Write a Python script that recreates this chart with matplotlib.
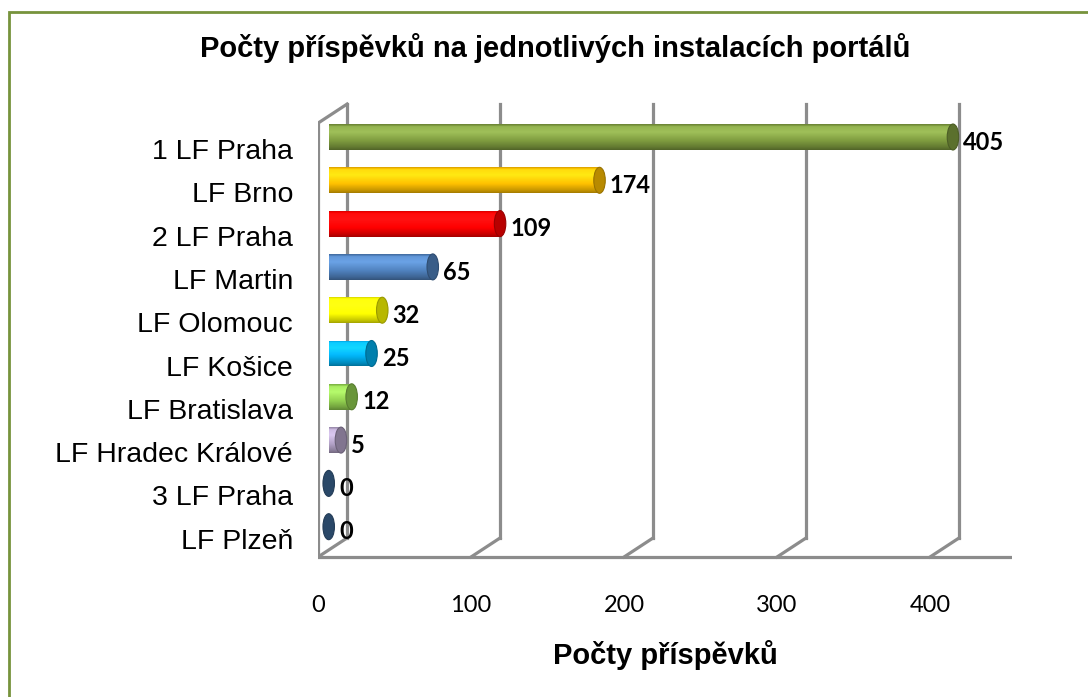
import numpy as np
import matplotlib.pyplot as plt
from matplotlib.patches import Ellipse, Rectangle
from matplotlib.colors import to_rgb
from matplotlib.transforms import ScaledTranslation

# data
kategorie = ["1 LF Praha", "LF Brno", "2 LF Praha", "LF Martin", "LF Olomouc",
             "LF Košice", "LF Bratislava", "LF Hradec Králové", "3 LF Praha", "LF Plzeň"]
hodnoty = [405, 174, 109, 65, 32, 25, 12, 5, 0, 0]
barvy = ["#7E9B3F", "#FFC000", "#FF0000", "#4F81BD", "#FFFF00",
         "#00B0F0", "#92D050", "#B3A2C7", "#3A6491", "#3A6491"]
xticky = [0, 100, 200, 300, 400]

W, H = 1088, 697
fig = plt.figure(figsize=(W / 100, H / 100), dpi=100)

# zelený rámeček okolo grafu
fig.add_artist(Rectangle((9 / W, -0.1), 1.2, 1 - 12 / H + 0.1, transform=fig.transFigure,
                         fill=False, edgecolor="#77933C", linewidth=2))

# osa: 0 vpredu na 318 px, 1.53 px na jednotku
ax = fig.add_axes([318 / W, 1 - 560 / H, 694 / W, 460 / H])
for s in ax.spines.values():
    s.set_visible(False)

hloubka_x = 19      # posun zadní stěny (jednotky)
hloubka_y = -0.44
podlaha = 9.70
vrch = -0.32
seda = "#8C8C8C"
lw = 2.3

# levá stěna
ax.plot([0, 0], [podlaha, vrch], color=seda, lw=lw, solid_capstyle="butt")
ax.plot([0, hloubka_x], [vrch, vrch + hloubka_y], color=seda, lw=lw)
ax.plot([0, hloubka_x], [podlaha, podlaha + hloubka_y], color=seda, lw=lw)
ax.plot([hloubka_x, hloubka_x], [podlaha + hloubka_y, vrch + hloubka_y], color=seda, lw=lw)
# mřížka na zadní stěně
for v in xticky[1:]:
    ax.plot([v + hloubka_x, v + hloubka_x], [vrch + hloubka_y, podlaha + hloubka_y],
            color=seda, lw=lw, zorder=1)
    ax.plot([v, v + hloubka_x], [podlaha, podlaha + hloubka_y], color=seda, lw=lw, zorder=1)
# přední hrana podlahy
ax.plot([0, 453], [podlaha, podlaha], color=seda, lw=lw)

# válcové pruhy
zacatek = 7
vyska = 0.6
cap_w = 7.5
navic = 3
for i, (h, c) in enumerate(zip(hodnoty, barvy)):
    rgb = np.array(to_rgb(c))
    if h > 0:
        delka = h + navic
        bar = ax.barh(i, delka, left=zacatek, height=vyska, color=c, zorder=3)[0]
        t = np.linspace(0, 1, 40)
        # světlejší nahoře, tmavší dole
        shade = np.interp(t, [0, 0.08, 0.3, 0.65, 0.9, 1], [0.85, 1.08, 1.12, 1.0, 0.78, 0.65])
        grad = np.clip(rgb[None, :] * shade[:, None], 0, 1)
        grad = np.where(shade[:, None] > 1, grad + (shade[:, None] - 1) * 0.6, grad)
        grad = np.clip(grad, 0, 1)
        img = ax.imshow(grad[:, None, :], extent=(zacatek, zacatek + delka, i + vyska / 2, i - vyska / 2),
                        aspect="auto", origin="upper", zorder=4, interpolation="bilinear")
        img.set_clip_path(bar)
    else:
        delka = 0
    cap = Ellipse((zacatek + delka, i), cap_w, vyska, facecolor=rgb * 0.72, edgecolor=rgb * 0.6,
                  lw=0.8, zorder=5)
    ax.add_patch(cap)
    ax.text(zacatek + delka + cap_w / 2 + 3, i + 0.12, str(h), fontsize=17, fontweight="bold",
            family=["Lato", "DejaVu Sans"], va="center", ha="left", zorder=6)

ax.set_xlim(0, 694 / 1.53)
ax.set_ylim((560 - 137) / 43.3, (100 - 137) / 43.3)

ax.set_yticks(range(len(kategorie)))
ax.set_yticklabels(kategorie, fontsize=20.5, family="Liberation Sans")
ax.set_xticks(xticky)
ax.set_xticklabels([str(x) for x in xticky], fontsize=17, family=["Lato", "DejaVu Sans"])
ax.tick_params(axis="y", length=0, pad=18)
ax.tick_params(axis="x", length=0, pad=25)

# popisky kategorií jsou v originále trochu níž než válce
posun = ScaledTranslation(0, -12 / 100, fig.dpi_scale_trans)
for lab in ax.get_yticklabels():
    lab.set_transform(lab.get_transform() + posun)

fig.text(555 / W, 1 - 48 / H, "Počty příspěvků na jednotlivých instalacích portálů",
         ha="center", va="center", fontsize=21, fontweight="bold", family="Liberation Sans")
fig.text(665 / W, 1 - 655 / H, "Počty příspěvků", ha="center", va="center",
         fontsize=21, fontweight="bold", family="Liberation Sans")

fig.savefig("out.png", dpi=100)
